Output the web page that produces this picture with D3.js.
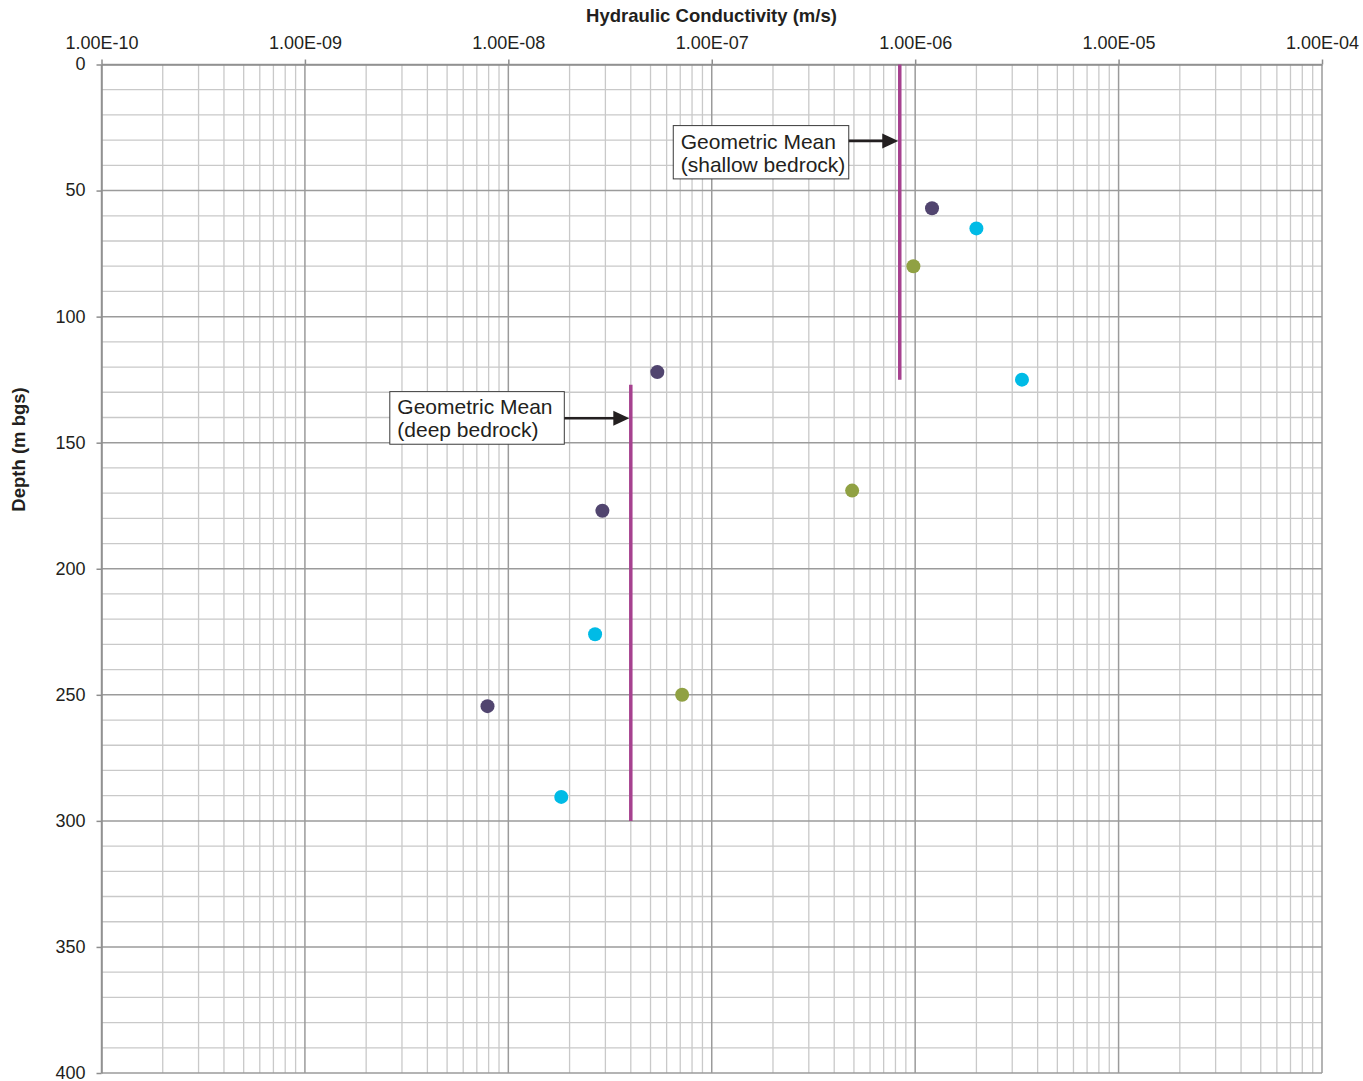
<!DOCTYPE html>
<html>
<head>
<meta charset="utf-8">
<script src="https://cdn.jsdelivr.net/npm/d3@7"></script>
<style>
  body { margin: 0; background: #fff; }
  svg { display: block; font-family: "Liberation Sans", Arial, sans-serif; }
</style>
</head>
<body>
<svg id="chart" width="1363" height="1081"></svg>
<script>
// Hydraulic conductivity (m/s) vs. depth (m below ground surface)
const decadeTicks = [1e-10, 1e-9, 1e-8, 1e-7, 1e-6, 1e-5, 1e-4];
const depthTicks = [0, 50, 100, 150, 200, 250, 300, 350, 400];

// Test interval results, one array per borehole
const boreholeA = [ // dark purple
  { k: 1.21e-6, depth: 57 },
  { k: 5.4e-8, depth: 122 },
  { k: 2.9e-8, depth: 177 },
  { k: 7.9e-9, depth: 254.5 }
];
const boreholeB = [ // cyan
  { k: 2.0e-6, depth: 65 },
  { k: 3.35e-6, depth: 125 },
  { k: 2.67e-8, depth: 226 },
  { k: 1.82e-8, depth: 290.5 }
];
const boreholeC = [ // olive
  { k: 9.8e-7, depth: 80 },
  { k: 4.9e-7, depth: 169 },
  { k: 7.15e-8, depth: 250 }
];

// Geometric means of each bedrock zone, drawn across the zone's depth range
const geoMeans = [
  { label: ["Geometric Mean", "(shallow bedrock)"], k: 8.4e-7, top: 0, bottom: 125, arrowDepth: 30.3 },
  { label: ["Geometric Mean", "(deep bedrock)"], k: 4.0e-8, top: 127, bottom: 300, arrowDepth: 140.3 }
];

const series = [
  { data: boreholeA, color: "#51456f" },
  { data: boreholeB, color: "#00bbe6" },
  { data: boreholeC, color: "#90a143" }
];

const margin = { left: 101.5, top: 64.5, right: 1322, bottom: 1073 };
const svg = d3.select("#chart");

const x = d3.scaleLog().domain([1e-10, 1e-4]).range([margin.left, margin.right]);
const y = d3.scaleLinear().domain([0, 400]).range([margin.top, margin.bottom]);

const grid = svg.append("g");

// minor vertical grid: 2..9 within each decade
const minorX = [];
for (let i = 0; i < decadeTicks.length - 1; i++) {
  for (let m = 2; m <= 9; m++) minorX.push(decadeTicks[i] * m);
}
grid.selectAll(".vminor").data(minorX).join("line")
  .attr("x1", d => x(d)).attr("x2", d => x(d))
  .attr("y1", y(0)).attr("y2", y(400))
  .attr("stroke", "#c9c9c9").attr("stroke-width", 1.3);

// minor horizontal grid: every 10 m
const minorY = d3.range(10, 400, 10).filter(d => d % 50 !== 0);
grid.selectAll(".hminor").data(minorY).join("line")
  .attr("x1", x(1e-10)).attr("x2", x(1e-4))
  .attr("y1", d => y(d)).attr("y2", d => y(d))
  .attr("stroke", "#c9c9c9").attr("stroke-width", 1.3);

// major grid
grid.selectAll(".hmajor").data(depthTicks).join("line")
  .attr("x1", x(1e-10)).attr("x2", x(1e-4))
  .attr("y1", d => y(d)).attr("y2", d => y(d))
  .attr("stroke", "#9b9b9b").attr("stroke-width", 1.5);
grid.selectAll(".vmajor").data(decadeTicks).join("line")
  .attr("x1", d => x(d)).attr("x2", d => x(d))
  .attr("y1", y(0)).attr("y2", y(400))
  .attr("stroke", "#9b9b9b").attr("stroke-width", 1.5);

// axes
const xAxis = d3.axisTop(x).tickValues(decadeTicks)
  .tickFormat(d => d.toExponential(2).toUpperCase().replace(/E([+-])(\d)$/, "E$10$2"))
  .tickSizeInner(5).tickSizeOuter(0).tickPadding(10.5);
const xg = svg.append("g").attr("transform", `translate(0,${y(0)})`).call(xAxis);
xg.select(".domain").attr("stroke", "#8e8e8e").attr("stroke-width", 1.5);
xg.selectAll(".tick line").attr("stroke", "#8e8e8e").attr("stroke-width", 1.5);
xg.selectAll("text").attr("font-size", 18).attr("fill", "#231f20")
  .attr("font-family", "Liberation Sans, Arial, sans-serif");

const yAxis = d3.axisLeft(y).tickValues(depthTicks)
  .tickSizeInner(5).tickSizeOuter(0).tickPadding(11);
const yg = svg.append("g").attr("transform", `translate(${x(1e-10)},0)`).call(yAxis);
yg.select(".domain").attr("stroke", "#8e8e8e").attr("stroke-width", 1.5);
yg.selectAll(".tick line").attr("stroke", "#8e8e8e").attr("stroke-width", 1.5);
yg.selectAll("text").attr("font-size", 18).attr("fill", "#231f20")
  .attr("font-family", "Liberation Sans, Arial, sans-serif")
  .attr("dy", "0.3em");

// axis titles
svg.append("text")
  .attr("x", 711.5).attr("y", 22.3)
  .attr("text-anchor", "middle").attr("font-size", 18.5).attr("font-weight", "bold")
  .attr("fill", "#231f20").text("Hydraulic Conductivity (m/s)");
svg.append("text")
  .attr("transform", `translate(25,449.5) rotate(-90)`)
  .attr("text-anchor", "middle").attr("font-size", 18.5).attr("font-weight", "bold")
  .attr("fill", "#231f20").text("Depth (m bgs)");

// geometric mean lines
svg.selectAll(".gm").data(geoMeans).join("line")
  .attr("x1", d => x(d.k)).attr("x2", d => x(d.k))
  .attr("y1", d => y(d.top)).attr("y2", d => y(d.bottom))
  .attr("stroke", "#a6418f").attr("stroke-width", 3.5);

// data points
series.forEach(s => {
  svg.append("g").selectAll("circle").data(s.data).join("circle")
    .attr("cx", d => x(d.k)).attr("cy", d => y(d.depth))
    .attr("r", 7).attr("fill", s.color);
});

// callouts: boxed label with an arrow pointing at the mean line
const callout = [
  { width: 175.5, gap: 49.5, above: 15.3, height: 53.3, base1: 23.3, base2: 46.8 },
  { width: 174.5, gap: 65, above: 26.6, height: 52.6, base1: 22.5, base2: 45.5 }
];
geoMeans.forEach((g, i) => {
  const c = callout[i];
  const ay = y(g.arrowDepth);
  const tip = x(g.k) - 1.5;
  const right = tip - c.gap;
  const left = right - c.width;
  const top = ay - c.above;
  const grp = svg.append("g");
  grp.append("rect")
    .attr("x", left).attr("y", top).attr("width", c.width).attr("height", c.height)
    .attr("fill", "#fff").attr("stroke", "#3a3a3a").attr("stroke-width", 1);
  grp.append("line")
    .attr("x1", right).attr("x2", tip - 14).attr("y1", ay).attr("y2", ay)
    .attr("stroke", "#231f20").attr("stroke-width", 2.6);
  grp.append("path")
    .attr("d", `M${tip},${ay} L${tip - 16},${ay - 7.5} L${tip - 16},${ay + 7.5} Z`)
    .attr("fill", "#231f20");
  grp.selectAll("text").data(g.label).join("text")
    .attr("x", left + 7.5).attr("y", (d, j) => top + (j === 0 ? c.base1 : c.base2))
    .attr("font-size", 21).attr("fill", "#231f20").text(d => d);
});
</script>
</body>
</html>
